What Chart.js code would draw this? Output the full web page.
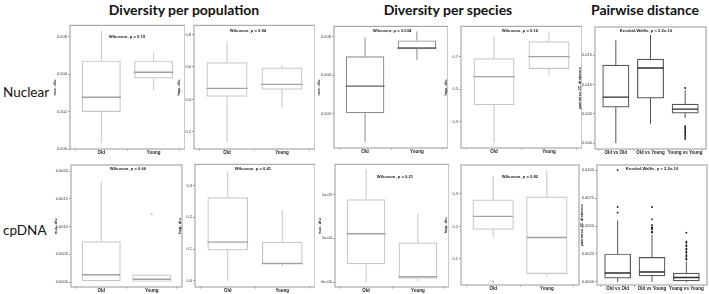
<!DOCTYPE html>
<html lang="en">
<head>
<meta charset="UTF-8">
<title>Diversity boxplots</title>
<script src="https://cdn.jsdelivr.net/npm/chart.js"></script>
<style>
  body { margin: 0; width: 709px; height: 294px; position: relative; background: #fff; overflow: hidden; font-family: Lato, sans-serif; }
  canvas { position: absolute; }
  .lbl { position: absolute; white-space: nowrap; color: #111; transform: translate(-50%, -50%); }
  .head { font-weight: bold; font-size: 14px; }
  .row { position: absolute; white-space: nowrap; color: #111; font-size: 13.5px; transform: translateY(-50%); }
</style>
</head>
<body>
<div class="lbl head" style="left:184px;top:9px">Diversity per population</div>
<div class="lbl head" style="left:448px;top:9px">Diversity per species</div>
<div class="lbl head" style="left:645px;top:9px">Pairwise distance</div>
<div class="row" style="left:3px;top:92px">Nuclear</div>
<div class="row" style="left:3px;top:230px">cpDNA</div>

<script>
// groups on the x axis
const ageGroups = ['Old', 'Young'];
const pairGroups = ['Old vs Old', 'Old vs Young', 'Young vs Young'];

// box summaries per group: [lower whisker, Q1, median, Q3, upper whisker]
const nucPopNd = [[0.00032, 0.0020, 0.00276, 0.0047, 0.00632], [0.00314, 0.00378, 0.0041, 0.0047, 0.00514]];
const nucPopHd = [[0.138, 0.419, 0.468, 0.627, 0.757], [0.349, 0.462, 0.493, 0.594, 0.612]];
const nucSpNd = [[0.00052, 0.00205, 0.00343, 0.00496, 0.00594], [0.00478, 0.00535, 0.0054, 0.00578, 0.00626]];
const nucSpHd = [[0.171, 0.405, 0.577, 0.688, 0.823], [0.583, 0.626, 0.700, 0.792, 0.854]];
const nucPair = [[0.0, 0.00614, 0.00785, 0.01329, 0.01756], [0.00324, 0.00768, 0.0128, 0.01433, 0.01843], [0.0043, 0.00512, 0.0058, 0.00666, 0.0090]];
const cpPopNd = [[0.0, 0.00002, 0.00013, 0.00073, 0.0018], [0.0, 0.0, 0.00005, 0.00013, 0.00013]];
const cpPopHd = [[0.0, 0.097, 0.122, 0.262, 0.344], [0.044, 0.054, 0.055, 0.122, 0.222]];
const cpSpNd = [[0.0, 0.000207, 0.000552, 0.000943, 0.001287], [0.00001, 0.00004, 0.00006, 0.000448, 0.000782]];
const cpSpHd = [[0.166, 0.191, 0.231, 0.282, 0.355], [0.045, 0.055, 0.166, 0.291, 0.374]];
const cpPair = [[0.0, 0.00035, 0.0008, 0.0025, 0.0055], [0.0, 0.00054, 0.00089, 0.0022, 0.0042], [0.0, 0.0001, 0.0004, 0.0008, 0.0018]];

// outlying points per group
const nucPairOut = [[], [], [0.0094, 0.0029, 0.0026, 0.0024, 0.0021, 0.0019, 0.0016, 0.0013, 0.0010, 0.0007]];
const cpPopNdOut = [[], [0.00122]];
const cpSpHdOut = [[0.03], []];
const cpPairOut = [
  [0.0100, 0.0067, 0.0062],
  [0.0067, 0.0056, 0.0051, 0.0049, 0.0048, 0.0047, 0.0045, 0.0044],
  [0.0044, 0.0036, 0.0035, 0.0033, 0.0032, 0.0030, 0.0029, 0.0027, 0.0026, 0.0024, 0.0023, 0.0021, 0.0020]
];

// y ticks and their labels
const ticksNd1 = [0, 0.002, 0.004, 0.006];
const labelsNd1 = ['0.000', '0.002', '0.004', '0.006'];
const ticksHd1 = [0.2, 0.4, 0.6, 0.8];
const labelsHd1 = ['0.2', '0.4', '0.6', '0.8'];
const ticksNd2 = [0.002, 0.004, 0.006];
const labelsNd2 = ['0.002', '0.004', '0.006'];
const ticksHd2 = [0.3, 0.5, 0.7];
const labelsHd2 = ['0.3', '0.5', '0.7'];
const ticksPair1 = [0, 0.005, 0.010, 0.015];
const labelsPair1 = ['0.000', '0.005', '0.010', '0.015'];
const ticksNd3 = [0, 0.0005, 0.0010, 0.0015, 0.0020];
const labelsNd3 = ['0.0000', '0.0005', '0.0010', '0.0015', '0.0020'];
const ticksHd3 = [0, 0.1, 0.2, 0.3];
const labelsHd3 = ['0.0', '0.1', '0.2', '0.3'];
const ticksNd4 = [0, 0.0005, 0.0010];
const labelsNd4 = ['0e+00', '5e-04', '1e-03'];
const ticksHd4 = [0.1, 0.2, 0.3];
const labelsHd4 = ['0.1', '0.2', '0.3'];
const ticksPair2 = [0, 0.0025, 0.0050, 0.0075, 0.0100];
const labelsPair2 = ['0.0000', '0.0025', '0.0050', '0.0075', '0.0100'];

const notes = ['Wilcoxon, p = 0.19', 'Wilcoxon, p = 0.94', 'Wilcoxon, p = 0.034', 'Wilcoxon, p = 0.16', 'Kruskal-Wallis, p < 2.2e-16',
               'Wilcoxon, p = 0.66', 'Wilcoxon, p = 0.41', 'Wilcoxon, p = 0.21', 'Wilcoxon, p = 0.82', 'Kruskal-Wallis, p < 2.2e-16'];

const light = { line: '#c6c6c6', median: '#a2a2a2', dot: '#aaaaaa' };
const mid = { line: '#8c8c8c', median: '#606060', dot: '#333' };
const dark = { line: '#555555', median: '#2e2e2e', dot: '#111' };

// layout: rect = [left, top, width, height] of each plot panel
const panels = [
  { rect: [70, 26, 112, 123], groups: ageGroups, stats: nucPopNd, out: null, range: [0, 0.0066], ticks: ticksNd1, tl: labelsNd1, title: 'nuc. div.', note: 0, nx: 57, ny: 11, col: light },
  { rect: [194, 26, 118, 123], groups: ageGroups, stats: nucPopHd, out: null, range: [0.095, 0.856], ticks: ticksHd1, tl: labelsHd1, title: 'hap. div.', note: 1, nx: 54, ny: 5, col: light },
  { rect: [334, 27, 111, 121], groups: ageGroups, stats: nucSpNd, out: null, range: [0.00023, 0.00652], ticks: ticksNd2, tl: labelsNd2, title: 'nuc. div.', note: 2, nx: 58, ny: 4, col: mid },
  { rect: [461, 27, 118, 121], groups: ageGroups, stats: nucSpHd, out: null, range: [0.14, 0.885], ticks: ticksHd2, tl: labelsHd2, title: 'hap. div.', note: 3, nx: 59, ny: 4, col: light },
  { rect: [595, 27, 112, 122], groups: pairGroups, stats: nucPair, out: nucPairOut, range: [-0.001, 0.0198], ticks: ticksPair1, tl: labelsPair1, title: 'pairwise JC distance', note: 4, nx: 51, ny: 4, col: dark },
  { rect: [71, 165, 112, 122], groups: ageGroups, stats: cpPopNd, out: cpPopNdOut, range: [-0.00009, 0.00211], ticks: ticksNd3, tl: labelsNd3, title: 'nuc. div.', note: 5, nx: 57, ny: 4, col: light },
  { rect: [195, 165, 117, 122], groups: ageGroups, stats: cpPopHd, out: null, range: [-0.019, 0.366], ticks: ticksHd3, tl: labelsHd3, title: 'hap. div.', note: 6, nx: 58, ny: 4, col: light },
  { rect: [335, 165, 111, 122], groups: ageGroups, stats: cpSpNd, out: null, range: [-0.000057, 0.001345], ticks: ticksNd4, tl: labelsNd4, title: 'nuc. div.', note: 7, nx: 60, ny: 12, col: light },
  { rect: [461, 165, 119, 120], groups: ageGroups, stats: cpSpHd, out: cpSpHdOut, range: [0.02, 0.389], ticks: ticksHd4, tl: labelsHd4, title: 'hap. div.', note: 8, nx: 59, ny: 12, col: light },
  { rect: [597, 165, 111, 120], groups: pairGroups, stats: cpPair, out: cpPairOut, range: [-0.00027, 0.01045], ticks: ticksPair2, tl: labelsPair2, title: 'pairwise JC distance', note: 9, nx: 55, ny: 4, col: dark }
];

const FAM = '"Liberation Sans", Arial, sans-serif';
const BOX = 0.75;
const AXIS_W = 24, AXIS_H = 11, TOP = 4, RIGHT = 3;

function buildPanel(p) {
  const [x, y, w, h] = p.rect;
  const cv = document.createElement('canvas');
  cv.width = AXIS_W + w + RIGHT;
  cv.height = TOP + h + AXIS_H;
  cv.style.left = (x - AXIS_W) + 'px';
  cv.style.top = (y - TOP) + 'px';
  document.body.appendChild(cv);

  const n = p.groups.length;
  const xMin = 0.4, xMax = n + 0.6;
  const boxes = [], whiskers = [], medians = [], dots = [];
  p.stats.forEach((s, i) => {
    const c = i + 1;
    boxes.push({ x: c, y: [s[1], s[3]] });
    whiskers.push({ x: c, y: s[0] }, { x: c, y: s[1] }, { x: c, y: null },
                  { x: c, y: s[3] }, { x: c, y: s[4] }, { x: c, y: null });
    medians.push({ x: c - BOX / 2, y: s[2] }, { x: c + BOX / 2, y: s[2] }, { x: c, y: null });
    if (p.out) p.out[i].forEach(v => dots.push({ x: c, y: v }));
  });

  const tickFont = { family: FAM, size: 4 };
  const frame = {
    id: 'frame',
    afterDraw(chart) {
      const a = chart.chartArea, ctx = chart.ctx;
      ctx.save();
      ctx.strokeStyle = '#a9a9a9';
      ctx.lineWidth = 1.2;
      ctx.strokeRect(a.left, a.top, a.right - a.left, a.bottom - a.top);
      ctx.fillStyle = '#1a1a1a';
      ctx.font = 'bold 4.2px ' + FAM;
      ctx.textAlign = 'center';
      ctx.textBaseline = 'middle';
      ctx.fillText(notes[p.note], a.left + p.nx, a.top + p.ny);
      ctx.restore();
    }
  };

  new Chart(cv, {
    type: 'bar',
    data: {
      datasets: [
        { type: 'line', data: whiskers, borderColor: p.col.line, borderWidth: 1, pointRadius: 0, order: 3 },
        { type: 'bar', data: boxes, backgroundColor: '#fff', borderColor: p.col.line, borderWidth: 1.2,
          borderSkipped: false, barThickness: w * BOX / (xMax - xMin), order: 2 },
        { type: 'line', data: medians, borderColor: p.col.median, borderWidth: 1.4, pointRadius: 0, order: 1 },
        { type: 'scatter', data: dots, backgroundColor: p.col.dot, borderWidth: 0, pointRadius: 0.9, order: 0 }
      ]
    },
    options: {
      responsive: false,
      animation: false,
      devicePixelRatio: 1,
      layout: { padding: 0 },
      plugins: { legend: { display: false }, tooltip: { enabled: false } },
      scales: {
        x: {
          type: 'linear', min: xMin, max: xMax, offset: false,
          grid: { drawOnChartArea: false, tickLength: 1.5, color: '#999' },
          border: { display: false },
          afterBuildTicks: s => { s.ticks = p.groups.map((g, i) => ({ value: i + 1 })); },
          afterFit: s => { s.height = AXIS_H; },
          ticks: { callback: (v, i) => p.groups[i], font: { family: FAM, size: 4.5, weight: 'bold' },
                   color: '#222', padding: 0, autoSkip: false, maxRotation: 0 }
        },
        y: {
          min: p.range[0], max: p.range[1],
          grid: { drawOnChartArea: false, tickLength: 2, color: '#999' },
          border: { display: false },
          afterBuildTicks: s => { s.ticks = p.ticks.map(v => ({ value: v })); },
          afterFit: s => { s.width = AXIS_W; },
          ticks: { callback: (v, i) => p.tl[i], font: tickFont, color: '#333', padding: 1 },
          title: { display: true, text: p.title, font: { family: FAM, size: 4.2, weight: 'bold' },
                   color: '#222', padding: { top: 6, bottom: 0 } }
        }
      }
    },
    plugins: [frame]
  });
}

panels.forEach(buildPanel);
</script>
</body>
</html>
